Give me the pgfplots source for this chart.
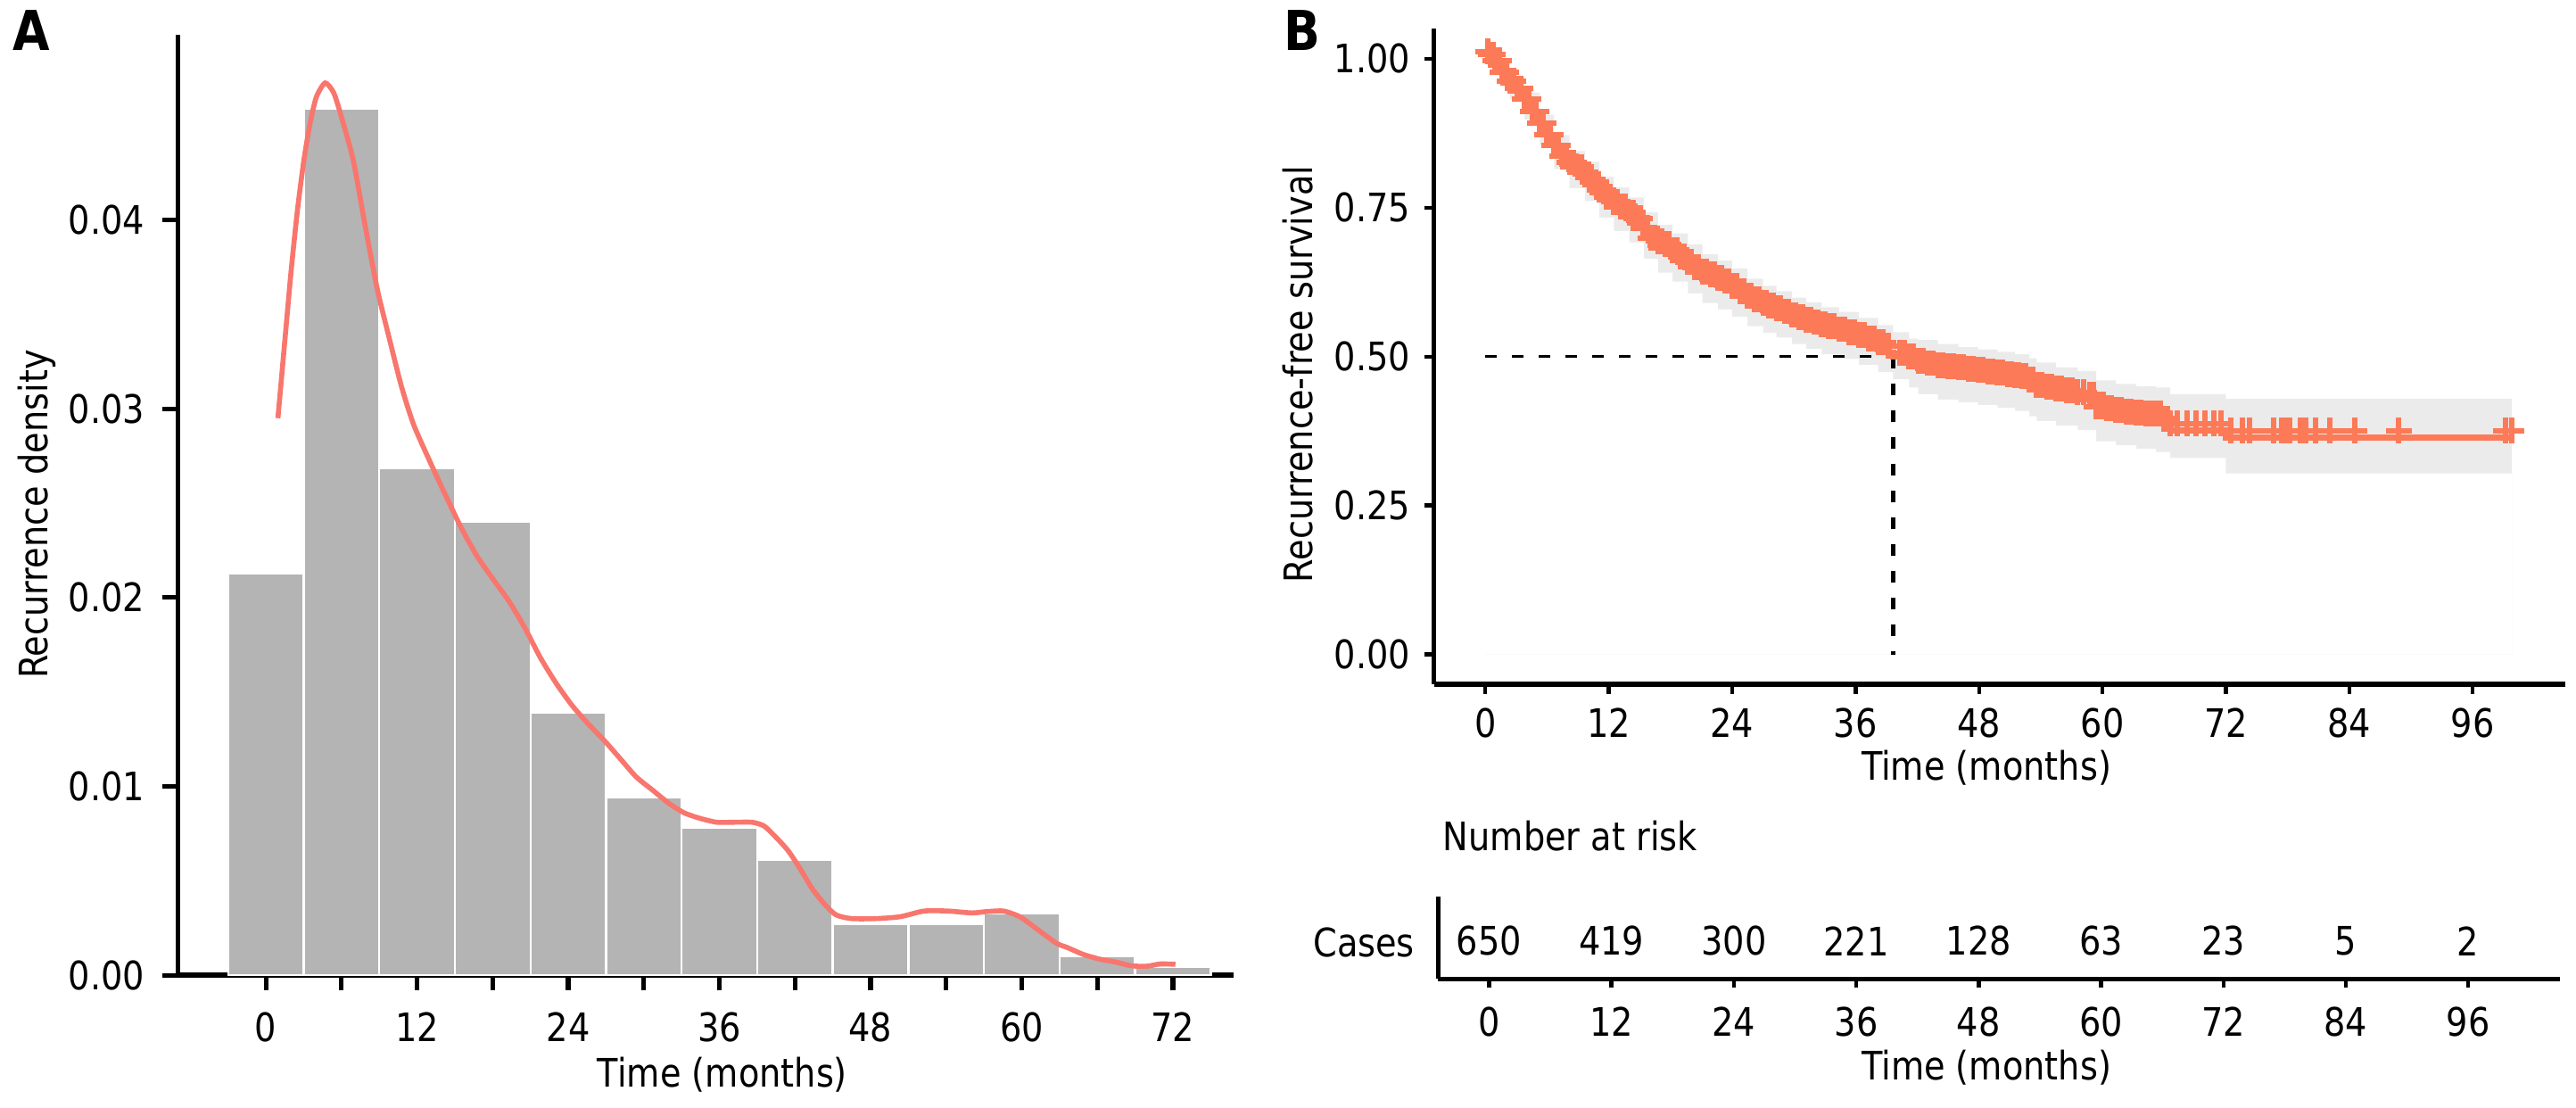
\documentclass[border=0pt]{standalone}
\usepackage{fontspec}
\setmainfont{DejaVu Sans}[FakeStretch=0.87]
\usepackage{pgfplots}
\pgfplotsset{compat=1.18}

\definecolor{barfill}{HTML}{B4B4B4}
\definecolor{denscol}{HTML}{F8766D}
\definecolor{kmcol}{HTML}{FC7A57}
\definecolor{bandcol}{HTML}{EBEBEB}
\newcommand\fs{\fontsize{11pt}{13pt}\selectfont}

\pgfplotsset{
  panel/.style={
    scale only axis,
    axis lines=left,
    axis line style={-, line width=1.4pt, black},
    tick style={line width=1.3pt, black},
    tick align=outside,
    tick label style={font=\fs, inner sep=0pt, text=black},
    label style={font=\fs, inner sep=0pt, text=black},
    scaled ticks=false,
    /pgf/number format/assume math mode=true,
  },
}

\begin{document}
\begin{tikzpicture}
\useasboundingbox (0,0) rectangle (722pt,310.25pt);

% panel letters
\node[anchor=base west, inner sep=0pt, font=\fontsize{15.4pt}{18pt}\selectfont\bfseries] at (3.33pt,296.08pt) {A};
\node[anchor=base west, inner sep=0pt, font=\fontsize{15.4pt}{18pt}\selectfont\bfseries] at (359.6pt,296.08pt) {B};

% ---------------- A: histogram with density curve ----------------
\begin{axis}[panel,
  at={(49.825pt,36.95pt)}, anchor=south west,
  width=295.85pt, height=263.55pt,
  xmin=-7, xmax=76.8, ymin=0, ymax=0.0498,
  xtick={0,6,...,72}, xticklabels={0,,12,,24,,36,,48,,60,,72},
  ytick={0,0.01,0.02,0.03,0.04}, yticklabels={0.00,0.01,0.02,0.03,0.04},
  major tick length=4.2pt,
  xticklabel style={anchor=north, yshift=-6pt},
  yticklabel style={anchor=east, xshift=-4.9pt},
  xlabel={Time (months)}, ylabel={Recurrence density},
  xlabel style={at={(axis description cs:0.516,-0.1193)}, anchor=base},
  ylabel style={at={(axis description cs:-0.1232,0.49)}, anchor=base},
]
\addplot[ybar, bar width=6, fill=barfill, draw=white, line width=0.6pt]
  coordinates {(0,0.02129) (6,0.04591) (12,0.02685) (18,0.02400) (24,0.01393)
    (30,0.00944) (36,0.00779) (42,0.00610) (48,0.00270) (54,0.00270)
    (60,0.00330) (66,0.00103) (72,0.00046)};
\addplot[denscol, line width=1.4pt, smooth, tension=0.4]
  coordinates {(0.95,0.0295) (1.5,0.0336) (2.0,0.0373) (2.5,0.0405) (3.0,0.0431)
    (3.5,0.0451) (4.0,0.0465) (4.7,0.04725) (5.4,0.0467) (6.1,0.0452) (6.95,0.0431)
    (7.9,0.0396) (8.85,0.0363) (9.8,0.0337) (10.75,0.0312) (11.7,0.0292)
    (12.95,0.0273) (14.2,0.0255) (15.5,0.0237) (16.75,0.0222) (18.0,0.0210)
    (19.3,0.0198) (20.55,0.0184) (21.8,0.0168) (23.1,0.0154) (24.35,0.01425)
    (25.6,0.0133) (26.9,0.0124) (28.15,0.01145) (29.4,0.0105) (30.7,0.0098)
    (32.0,0.0091) (33.2,0.0086) (34.5,0.0083) (35.8,0.0081) (37.0,0.0081)
    (38.6,0.0081) (39.55,0.0079) (40.5,0.0073) (41.45,0.0066) (42.4,0.00565)
    (43.35,0.0046) (44.3,0.0038) (45.25,0.0032) (46.5,0.0030) (48.45,0.0030)
    (50.35,0.0031) (52.25,0.0034) (54.15,0.0034) (56.05,0.0033) (57.2,0.00337)
    (58.55,0.0034) (59.85,0.0031) (61.1,0.0025) (62.75,0.0017) (63.65,0.00146)
    (64.9,0.0011) (66.2,0.00085) (67.45,0.0007) (68.7,0.0005) (69.95,0.00048)
    (71.0,0.0006) (72.2,0.00058)};
\end{axis}

% ---------------- B: Kaplan-Meier curve ----------------
\begin{axis}[panel,
  at={(401.875pt,118.5pt)}, anchor=south west,
  width=317.125pt, height=183.625pt,
  xmin=-5, xmax=105, ymin=-0.05, ymax=1.05,
  xtick={0,12,...,96}, xticklabels={0,12,24,36,48,60,72,84,96},
  ytick={0,0.25,0.5,0.75,1}, yticklabels={0.00,0.25,0.50,0.75,1.00},
  major tick length=2.75pt,
  axis line style={line width=1.3pt},
  tick style={line width=1.1pt},
  xticklabel style={anchor=north, yshift=-3.75pt},
  yticklabel style={anchor=east, xshift=-3.7pt},
  xlabel={Time (months)}, ylabel={Recurrence-free survival},
  xlabel style={at={(axis description cs:0.4884,-0.1457)}, anchor=base},
  ylabel style={at={(axis description cs:-0.1071,0.473)}, anchor=base},
]
% confidence band: upper limit filled, lower limit cleared
\addplot[const plot, draw=none, fill=bandcol] coordinates {
  (0,1.000) (1,0.997) (2.4,0.970) (3.8,0.943) (5.3,0.906) (6.7,0.872) (8.2,0.845)
  (9.7,0.827) (11.1,0.802) (12.5,0.784) (14.0,0.767) (15.4,0.742) (16.8,0.721)
  (18.2,0.707) (19.7,0.688) (21.1,0.672) (22.6,0.661) (24.0,0.648) (25.5,0.631)
  (27.0,0.619) (28.3,0.610) (29.8,0.599) (31.2,0.591) (32.7,0.583) (34.4,0.575)
  (36.3,0.565) (38.2,0.553) (39.65,0.541) (41.2,0.530) (42.1,0.528) (44.0,0.521)
  (46.0,0.516) (47.9,0.512) (49.8,0.508) (51.5,0.504) (52.9,0.497) (53.6,0.490)
  (55.5,0.482) (57.6,0.476) (59.4,0.460) (61.3,0.454) (63.3,0.450) (65.2,0.448)
  (66.6,0.437) (72.0,0.429) (99.8,0.429)} \closedcycle;
\addplot[const plot, draw=none, fill=white] coordinates {
  (0,1.000) (1,0.972) (2.4,0.932) (3.8,0.898) (5.3,0.855) (6.7,0.815) (8.2,0.783)
  (9.7,0.761) (11.1,0.733) (12.5,0.711) (14.0,0.692) (15.4,0.664) (16.8,0.641)
  (18.2,0.626) (19.7,0.606) (21.1,0.590) (22.6,0.579) (24.0,0.567) (25.5,0.551)
  (27.0,0.540) (28.3,0.532) (29.8,0.521) (31.2,0.513) (32.7,0.504) (34.4,0.496)
  (36.3,0.486) (38.2,0.474) (39.65,0.462) (41.2,0.448) (42.1,0.437) (44.0,0.428)
  (46.0,0.423) (47.9,0.419) (49.8,0.414) (51.5,0.409) (52.9,0.400) (53.6,0.392)
  (55.5,0.384) (57.6,0.377) (59.4,0.358) (61.3,0.351) (63.3,0.345) (65.2,0.340)
  (66.6,0.330) (72.0,0.304) (99.8,0.304)} \closedcycle;
% median survival
\addplot[black, line width=0.7pt, dash pattern=on 3.3pt off 4.2pt]
  coordinates {(0,0.5) (39.65,0.5)};
\addplot[black, line width=1.2pt, dash pattern=on 3.3pt off 4.2pt]
  coordinates {(39.65,0.5) (39.65,0)};
% survival curve
\addplot[kmcol, line width=1.7pt, const plot] coordinates {
  (0,1.000) (0.5,0.995) (1,0.985) (1.7,0.965) (2.4,0.951) (3.1,0.938) (3.8,0.920)
  (4.6,0.900) (5.3,0.880) (6.0,0.861) (6.7,0.843) (7.5,0.824) (8.2,0.814)
  (9.0,0.806) (9.7,0.794) (10.4,0.781) (11.1,0.768) (11.8,0.756) (12.5,0.748)
  (13.2,0.740) (14.0,0.730) (14.7,0.720) (15.4,0.704) (16.1,0.687) (16.8,0.682)
  (17.5,0.677) (18.2,0.667) (19.0,0.656) (19.7,0.647) (20.4,0.638) (21.1,0.631)
  (21.9,0.626) (22.6,0.620) (23.3,0.615) (24.0,0.607) (24.8,0.598) (25.5,0.590)
  (26.2,0.584) (27.0,0.578) (27.6,0.574) (28.3,0.569) (29.1,0.564) (29.8,0.558)
  (30.5,0.554) (31.2,0.550) (32.0,0.546) (32.7,0.542) (33.4,0.539) (34.4,0.534)
  (35.4,0.529) (36.3,0.524) (37.3,0.518) (38.2,0.512) (39.2,0.506) (39.65,0.500)
  (40.3,0.494) (41.2,0.488) (42.1,0.481) (43.0,0.477) (44.0,0.474) (45.0,0.472)
  (46.0,0.470) (47.0,0.468) (47.9,0.466) (48.9,0.463) (49.8,0.461) (50.8,0.459)
  (51.5,0.457) (52.2,0.456) (52.9,0.449) (53.6,0.441) (54.6,0.437) (55.5,0.434)
  (56.5,0.431) (57.6,0.428) (58.8,0.424) (59.4,0.404) (60.4,0.401) (61.3,0.398)
  (62.3,0.396) (63.3,0.394) (64.2,0.393) (65.2,0.392) (66.0,0.384) (66.6,0.376)
  (72.0,0.364) (99.8,0.364)};
% censored observations
\addplot[kmcol, only marks, mark=+, mark size=3.6pt, line width=1.5pt,
  mark options={yshift=2pt}] coordinates {
  (0.25,1.000) (0.5,0.995) (0.75,0.995) (1,0.985) (1.35,0.985) (1.7,0.965)
  (2.05,0.965) (2.4,0.951) (2.75,0.951) (3.1,0.938) (3.45,0.938) (3.8,0.920)
  (4.2,0.920) (4.6,0.900) (4.95,0.900) (5.3,0.880) (5.65,0.880) (6.0,0.861)
  (6.35,0.861) (6.7,0.843) (7.1,0.843) (7.5,0.824) (7.85,0.824) (8.2,0.814)
  (8.6,0.814) (9.0,0.806) (9.35,0.806) (9.7,0.794) (10.05,0.794) (10.4,0.781)
  (10.75,0.781) (11.1,0.768) (11.45,0.768) (11.8,0.756) (12.15,0.756) (12.5,0.748)
  (12.85,0.748) (13.2,0.740) (13.6,0.740) (14.0,0.730) (14.35,0.730) (14.7,0.720)
  (15.05,0.720) (15.4,0.704) (15.75,0.704) (16.1,0.687) (16.45,0.687) (16.8,0.682)
  (17.15,0.682) (17.5,0.677) (17.85,0.677) (18.2,0.667) (18.6,0.667) (19.0,0.656)
  (19.35,0.656) (19.7,0.647) (20.05,0.647) (20.4,0.638) (20.75,0.638) (21.1,0.631)
  (21.5,0.631) (21.9,0.626) (22.25,0.626) (22.6,0.620) (22.95,0.620) (23.3,0.615)
  (23.65,0.615) (24.0,0.607) (24.4,0.607) (24.8,0.598) (25.15,0.598) (25.5,0.590)
  (25.85,0.590) (26.2,0.584) (26.6,0.584) (27.0,0.578) (27.3,0.578) (27.6,0.574)
  (27.95,0.574) (28.3,0.569) (28.7,0.569) (29.1,0.564) (29.45,0.564) (29.8,0.558)
  (30.15,0.558) (30.5,0.554) (30.85,0.554) (31.2,0.550) (31.6,0.550) (32.0,0.546)
  (32.35,0.546) (32.7,0.542) (33.05,0.542) (33.4,0.539) (33.9,0.539) (34.4,0.534)
  (34.9,0.534) (35.4,0.529) (35.85,0.529) (36.3,0.524) (36.8,0.524) (37.3,0.518)
  (37.75,0.518) (38.2,0.512) (38.7,0.512) (39.2,0.506) (40.3,0.494) (40.75,0.494)
  (41.2,0.488) (41.65,0.488) (42.1,0.481) (42.55,0.481) (43.0,0.477) (43.5,0.477)
  (44.0,0.474) (44.5,0.474) (45.0,0.472) (45.5,0.472) (46.0,0.470) (46.5,0.470)
  (47.0,0.468) (47.45,0.468) (47.9,0.466) (48.4,0.466) (48.9,0.463) (49.35,0.463)
  (49.8,0.461) (50.3,0.461) (50.8,0.459) (51.15,0.459) (51.5,0.457) (51.85,0.457)
  (52.2,0.456) (52.55,0.456) (52.9,0.449) (53.25,0.449) (53.6,0.441) (54.1,0.441)
  (54.6,0.437) (55.05,0.437) (55.5,0.434) (56.0,0.434) (56.5,0.431) (57.05,0.431)
  (57.6,0.428) (58.2,0.428) (58.8,0.424) (59.1,0.424) (59.4,0.404) (59.9,0.404)
  (60.4,0.401) (60.85,0.401) (61.3,0.398) (61.8,0.398) (62.3,0.396) (62.8,0.396)
  (63.3,0.394) (63.75,0.394) (64.2,0.393) (64.7,0.393) (65.2,0.392) (65.6,0.392)
  (66.0,0.384) (66.3,0.384) (66.6,0.376) (67.3,0.376) (68.2,0.376) (69.1,0.376)
  (70.0,0.376) (70.8,0.376) (71.5,0.376) (72.5,0.364) (73.6,0.364) (74.3,0.364)
  (76.6,0.364) (77.4,0.364) (77.7,0.364) (78.0,0.364) (78.2,0.364) (79.2,0.364)
  (79.5,0.364) (79.8,0.364) (80.7,0.364) (82.1,0.364) (84.5,0.364) (88.8,0.364)
  (99.2,0.364) (99.8,0.364)};
\end{axis}

% ---------------- B: number at risk ----------------
\begin{axis}[panel,
  at={(403.075pt,35.925pt)}, anchor=south west,
  width=314.425pt, height=23.075pt,
  xmin=-5, xmax=105, ymin=0, ymax=1,
  xtick={0,12,...,96}, xticklabels={0,12,24,36,48,60,72,84,96},
  ytick={0.447}, yticklabels={Cases},
  major tick length=2.5pt,
  axis line style={line width=1.2pt},
  tick style={line width=1.1pt},
  ytick style={draw=none},
  xticklabel style={anchor=north, yshift=-5.2pt},
  yticklabel style={anchor=east, xshift=-3.9pt},
  title={Number at risk},
  title style={at={(axis description cs:0,1)}, anchor=base west, xshift=1.2pt, yshift=6.75pt, font=\fs, inner sep=0pt},
  xlabel={Time (months)},
  xlabel style={at={(axis description cs:0.4888,-1.2286)}, anchor=base},
]
\addplot[draw=none, mark=none, nodes near coords, point meta=explicit symbolic,
  every node near coord/.append style={font=\fs, inner sep=0pt, text=black}]
  coordinates {(0,0.274) [650] (12,0.274) [419] (24,0.274) [300] (36,0.274) [221]
    (48,0.274) [128] (60,0.274) [63] (72,0.274) [23] (84,0.274) [5] (96,0.274) [2]};
\end{axis}
\end{tikzpicture}
\end{document}
